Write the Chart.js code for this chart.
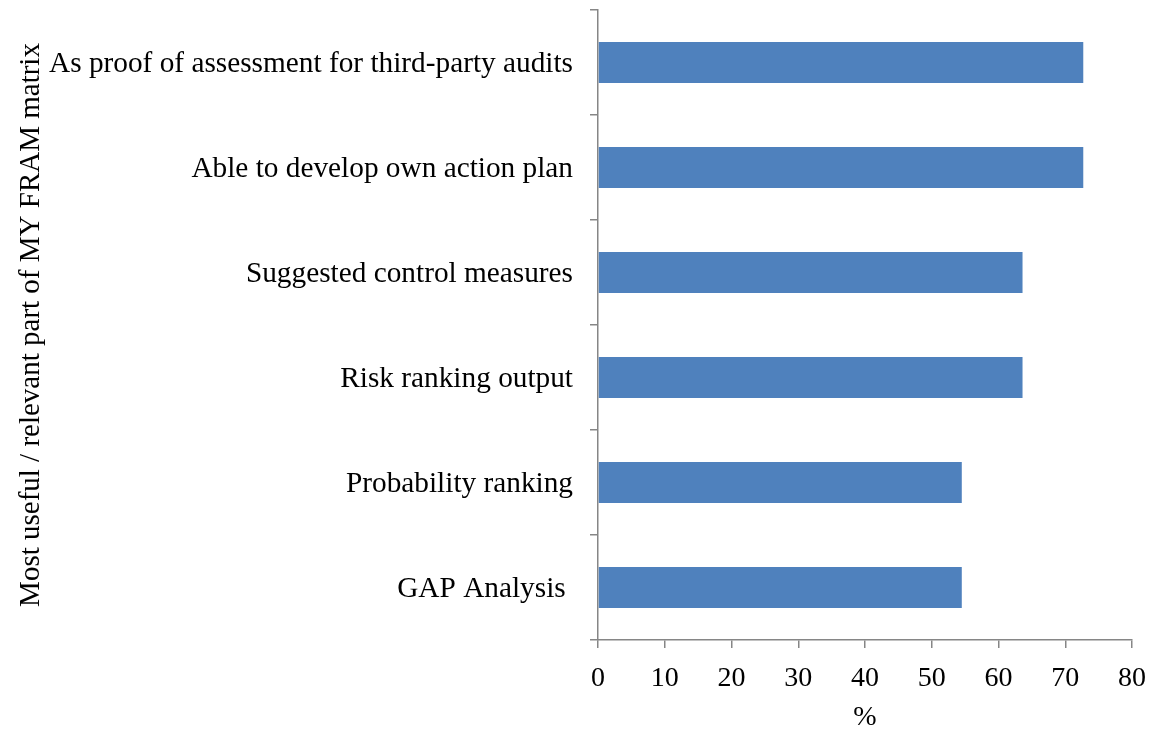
<!DOCTYPE html>
<html>
<head>
<meta charset="utf-8">
<script src="https://cdn.jsdelivr.net/npm/chart.js@4"></script>
<style>
  html, body { margin: 0; padding: 0; background: #fff; }
  #wrap { width: 1158px; height: 734px; }
</style>
</head>
<body>
<div id="wrap"><canvas id="chart" width="1158" height="734"></canvas></div>
<script>
// data
var categories = [
    "As proof of assessment for third-party audits",
    "Able to develop own action plan",
    "Suggested control measures",
    "Risk ranking output",
    "Probability ranking",
    "GAP Analysis "
]
var percentValues = [72.7, 72.7, 63.6, 63.6, 54.5, 54.5]
var xTicks = [0, 10, 20, 30, 40, 50, 60, 70, 80]

var fontFamily = "'Liberation Serif', 'Times New Roman', serif"
var axisGray = "#868686"

var ctx = document.getElementById("chart")
var chart = new Chart(ctx, {
    type: "bar",
    data: {
        labels: categories,
        datasets: [{
            data: percentValues,
            backgroundColor: "#4F81BD",
            borderWidth: 0,
            barPercentage: 0.39,
            categoryPercentage: 1.0
        }]
    },
    options: {
        indexAxis: "y",
        responsive: false,
        animation: false,
        layout: { padding: { top: 10, right: 26, left: 12, bottom: 0 } },
        plugins: { legend: { display: false }, tooltip: { enabled: false } },
        scales: {
            x: {
                min: 0,
                max: 80,
                afterBuildTicks: function(scale){
                    scale.ticks = xTicks.map(function(v){ return { value: v } })
                },
                grid: { drawOnChartArea: false, drawTicks: true, tickLength: 8, color: axisGray, lineWidth: 1.5 },
                border: { color: axisGray, width: 1.5 },
                ticks: { color: "#000", padding: 14, font: { family: fontFamily, size: 28 } },
                title: { display: true, text: "%", color: "#000", padding: { top: 4, bottom: 0 }, font: { family: fontFamily, size: 28 } },
                afterFit: function(scale){
                    scale.height = 734 - 640
                    scale.paddingLeft = 0
                    scale.paddingRight = 0
                }
            },
            y: {
                grid: { drawOnChartArea: false, drawTicks: true, tickLength: 8, color: axisGray, lineWidth: 1.5, offset: true },
                border: { color: axisGray, width: 1.5 },
                ticks: { color: "#000", padding: 17, labelOffset: 2, font: { family: fontFamily, size: 29.3 } },
                title: { display: true, text: "Most useful / relevant part of MY FRAM matrix", color: "#000", padding: 2, font: { family: fontFamily, size: 29 } },
                afterFit: function(scale){
                    scale.width = 598 - 12
                    scale.paddingTop = 0
                    scale.paddingBottom = 0
                }
            }
        }
    }
})
</script>
</body>
</html>
